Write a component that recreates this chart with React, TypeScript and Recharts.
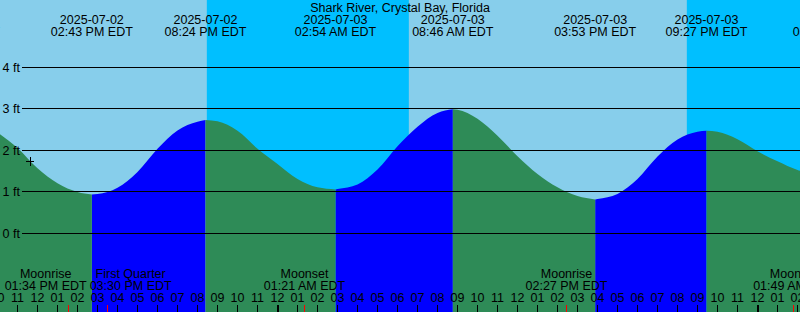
import React from "react";
import {
  Area,
  ComposedChart,
  ReferenceArea,
  ReferenceDot,
  ReferenceLine,
  XAxis,
  YAxis,
} from "recharts";

const W = 800;
const H = 312;
const DAY = "#87ceeb";
const NIGHT = "#00bfff";
const RISING = "#0000ff";
const FALLING = "#2e8b57";
const FONT = "'Liberation Sans', Arial, sans-serif";
const FONT_SIZE = 12.5;

const title = "Shark River, Crystal Bay, Florida";

// highs and lows (first and last sit just outside the window)
const tideDates = ["2025-07-02", "2025-07-02", "2025-07-02", "2025-07-03", "2025-07-03", "2025-07-03", "2025-07-03", "2025-07-04"];
const tideTimes = ["08:05 AM EDT", "02:43 PM EDT", "08:24 PM EDT", "02:54 AM EDT", "08:46 AM EDT", "03:53 PM EDT", "09:27 PM EDT", "03:48 AM EDT"];
const tideFeet = [null, 0.94, 2.73, 1.06, 2.99, 0.82, 2.47, null];

// water level, hours after noon 2025-07-02
const levelHours = [
  -1.875, -1, 0, 1, 2, 3, 4, 5, 6, 7, 8, 9, 10, 11, 12, 13, 14, 15, 16, 17, 18,
  19, 20, 21, 22, 23, 24, 25, 26, 27, 28, 29, 30, 31, 32, 33, 34, 35, 36, 37, 38, 38.125,
];
const levelFeet = [
  2.39, 2.06, 1.57, 1.21, 1.0, 0.95, 1.1, 1.48, 2.04, 2.48, 2.69, 2.7, 2.47, 2.04, 1.67, 1.31, 1.11, 1.07, 1.18, 1.54, 2.1,
  2.57, 2.9, 2.98, 2.76, 2.35, 1.86, 1.43, 1.11, 0.9, 0.83, 0.95, 1.31, 1.85, 2.26, 2.45, 2.45, 2.27, 1.98, 1.74, 1.53, 1.51,
];

const moonEvents = ["Moonrise", "First Quarter", "Moonset", "Moonrise", "Moonset"];
const moonDates = ["2025-07-02", "2025-07-02", "2025-07-03", "2025-07-03", "2025-07-04"];
const moonTimes = ["01:34 PM EDT", "03:30 PM EDT", "01:21 AM EDT", "02:27 PM EDT", "01:49 AM EDT"];

// sunset -> sunrise
const nightStartDates = ["2025-07-02", "2025-07-03"];
const nightStartTimes = ["08:28 PM", "08:28 PM"];
const nightEndDates = ["2025-07-03", "2025-07-04"];
const nightEndTimes = ["06:34 AM", "06:35 AM"];

const nowDate = "2025-07-02";
const nowTime = "11:38 AM";
const nowFeet = 1.73;

const feetTicks = [0, 1, 2, 3, 4];
const hourTicks = [
  -2, -1, 0, 1, 2, 3, 4, 5, 6, 7, 8, 9, 10, 11, 12, 13, 14, 15, 16, 17, 18, 19,
  20, 21, 22, 23, 24, 25, 26, 27, 28, 29, 30, 31, 32, 33, 34, 35, 36, 37, 38,
];

const xMin = -1.875;
const xMax = 38.125;
const yMin = -1.89;
const yMax = 5.62;
const pxPerHour = W / (xMax - xMin);
const labelW = 85;

const toHours = (date: string, time: string) => {
  const day = Number(date.slice(8, 10)) - 2;
  const [hh, mm] = time.slice(0, 5).split(":").map(Number);
  const pm = time.slice(6, 8) === "PM";
  return day * 24 + (hh % 12) + (pm ? 12 : 0) + mm / 60 - 12;
};

const points = levelHours.map((h, i) => ({ h, ft: levelFeet[i] }));
tideDates.forEach((d, i) => {
  const ft = tideFeet[i];
  if (ft != null) points.push({ h: toHours(d, tideTimes[i]), ft });
});
points.sort((a, b) => a.h - b.h);

const rows = points.map((p, i) => {
  const prev = points[i - 1];
  const next = points[i + 1];
  const up = (prev && p.ft > prev.ft) || (next && next.ft > p.ft);
  const down = (prev && p.ft < prev.ft) || (next && next.ft < p.ft);
  return { h: p.h, rise: up ? p.ft : null, fall: down ? p.ft : null };
});

// moon labels that would overlap get pushed apart until they touch
const moonHours = moonDates.map((d, i) => toHours(d, moonTimes[i]));
const moonCentres = moonHours.map((h) => h * pxPerHour);
for (let i = 0; i < moonCentres.length - 1; i++) {
  if (moonCentres[i + 1] - moonCentres[i] < labelW) {
    const mid = (moonCentres[i] + moonCentres[i + 1]) / 2;
    moonCentres[i] = mid - labelW / 2;
    moonCentres[i + 1] = mid + labelW / 2;
  }
}
const moonShift = moonCentres.map((c, i) => c - moonHours[i] * pxPerHour);

const textProps = {
  fontFamily: FONT,
  fontSize: FONT_SIZE,
  fill: "#000",
  textAnchor: "middle" as const,
};

const HourTick = (props: any) => {
  const { x, payload } = props;
  const h24 = (payload.value + 24 + 12) % 24;
  const h12 = h24 % 12 || 12;
  return (
    <g>
      <line x1={x} x2={x} y1={H - 7} y2={H} stroke="#000" strokeWidth={h24 === 0 ? 2 : 1} shapeRendering="crispEdges" />
      <text {...textProps} x={x} y={H - 10}>
        {String(h12).padStart(2, "0")}
      </text>
    </g>
  );
};

const FeetTick = (props: any) => {
  const { y, payload } = props;
  return (
    <g>
      <line x1={22} x2={W} y1={y} y2={y} stroke="#000" shapeRendering="crispEdges" />
      <text {...textProps} textAnchor="start" x={2.5} y={y + 4.5}>
        {payload.value + " ft"}
      </text>
    </g>
  );
};

const App = () => {
  return (
    <div style={{ position: "relative", width: W, height: H, background: DAY }}>
      <style>{"body{margin:0}"}</style>
      <ComposedChart width={W} height={H} data={rows} margin={{ top: 0, right: 0, bottom: 0, left: 0 }}>
        <XAxis
          dataKey="h"
          type="number"
          domain={[xMin, xMax]}
          allowDataOverflow
          ticks={hourTicks}
          interval={0}
          mirror
          axisLine={false}
          tickLine={false}
          tick={<HourTick />}
        />
        <YAxis
          type="number"
          domain={[yMin, yMax]}
          allowDataOverflow
          ticks={feetTicks}
          interval={0}
          mirror
          axisLine={false}
          tickLine={false}
          tick={<FeetTick />}
        />
        {nightStartDates.map((d, i) => (
          <ReferenceArea
            key={"n" + i}
            x1={toHours(d, nightStartTimes[i])}
            x2={toHours(nightEndDates[i], nightEndTimes[i])}
            y1={yMin}
            y2={yMax}
            fill={NIGHT}
            fillOpacity={1}
            stroke="none"
            ifOverflow="hidden"
          />
        ))}
        <Area
          dataKey="rise"
          type="monotone"
          baseValue="dataMin"
          fill={RISING}
          fillOpacity={1}
          stroke="none"
          connectNulls={false}
          dot={false}
          activeDot={false}
          isAnimationActive={false}
        />
        <Area
          dataKey="fall"
          type="monotone"
          baseValue="dataMin"
          fill={FALLING}
          fillOpacity={1}
          stroke="none"
          connectNulls={false}
          dot={false}
          activeDot={false}
          isAnimationActive={false}
        />
        <ReferenceDot
          x={toHours(nowDate, nowTime)}
          y={nowFeet}
          ifOverflow="visible"
          shape={(p: any) => (
            <g stroke="#000" shapeRendering="crispEdges">
              <line x1={p.cx - 4} x2={p.cx + 4} y1={p.cy} y2={p.cy} />
              <line x1={p.cx} x2={p.cx} y1={p.cy - 4.5} y2={p.cy + 4.5} />
            </g>
          )}
        />
        {tideDates.map((d, i) => (
          <ReferenceLine
            key={"t" + i}
            x={toHours(d, tideTimes[i])}
            ifOverflow="visible"
            shape={(p: any) => (
              <g>
                <text {...textProps} x={p.x1} y={24}>
                  {d}
                </text>
                <text {...textProps} x={p.x1} y={36}>
                  {tideTimes[i]}
                </text>
              </g>
            )}
          />
        ))}
        {moonEvents.map((name, i) => (
          <ReferenceLine
            key={"m" + i}
            x={moonHours[i]}
            ifOverflow="visible"
            shape={(p: any) => {
              const bottom = Math.max(p.y1, p.y2);
              return (
                <g>
                  <line x1={p.x1} x2={p.x1} y1={bottom - 7} y2={bottom} stroke="#ff0000" shapeRendering="crispEdges" />
                  <text {...textProps} x={p.x1 + moonShift[i]} y={278}>
                    {name}
                  </text>
                  <text {...textProps} x={p.x1 + moonShift[i]} y={290}>
                    {moonTimes[i]}
                  </text>
                </g>
              );
            }}
          />
        ))}
      </ComposedChart>
      <svg
        width={W}
        height={20}
        style={{ position: "absolute", left: 0, top: 0, pointerEvents: "none" }}
      >
        <text {...textProps} x={W / 2} y={11.5}>
          {title}
        </text>
      </svg>
    </div>
  );
};

export default App;
